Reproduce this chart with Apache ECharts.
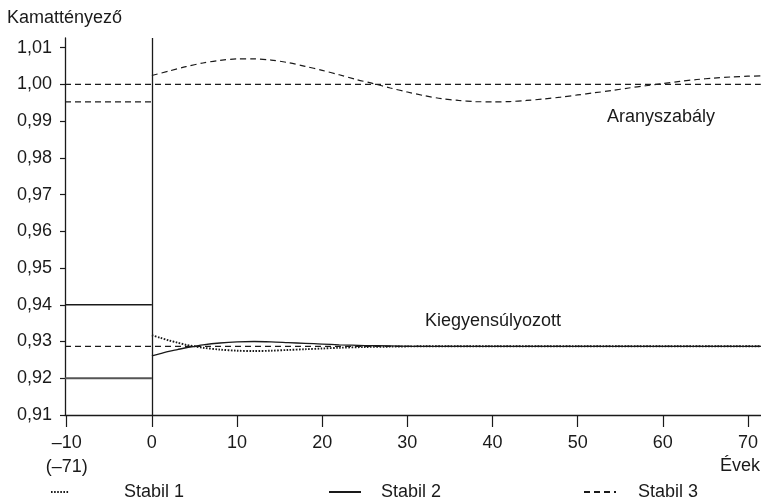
<!DOCTYPE html>
<html>
<head>
<meta charset="utf-8">
<script src="https://cdn.jsdelivr.net/npm/echarts@6/dist/echarts.min.js"></script>
<style>
html,body{margin:0;padding:0;background:#fff;}
#chart{width:761px;height:500px;}
</style>
</head>
<body>
<div id="chart"></div>
<script>
// ---- data ----
const xTicks = [-10, 0, 10, 20, 30, 40, 50, 60, 70];
const xTickLabels = ['–10\n(–71)', '0', '10', '20', '30', '40', '50', '60', '70'];
const yTicks = [0.91, 0.92, 0.93, 0.94, 0.95, 0.96, 0.97, 0.98, 0.99, 1.00, 1.01];

const preX = [-10.2, 0];
const fullX = [-10.2, 71.5];

const preArany = 0.9952;
const aranySteady = 1.00;
const kiegySteady = 0.9287;
const preHigh = 0.94;
const preLow = 0.92;

const aranyX = [0, 2, 4, 6, 8, 10, 12, 14, 16, 18, 20, 22, 24, 26, 28, 30, 32, 34, 36, 38, 40, 42, 44, 46, 48, 50, 52, 54, 56, 58, 60, 62, 64, 66, 68, 70, 71.5];
const aranyY = [1.0024, 1.0036, 1.0048, 1.0058, 1.0065, 1.0069, 1.0069, 1.0066, 1.0059, 1.0049, 1.0038, 1.0026, 1.0013, 1.0002, 0.9990, 0.9979, 0.9969, 0.9961, 0.9956, 0.9953, 0.9952, 0.9953, 0.9956, 0.9960, 0.9965, 0.9971, 0.9977, 0.9983, 0.9990, 0.9996, 1.0002, 1.0008, 1.0013, 1.0017, 1.0020, 1.0022, 1.0023];

const kiegyX = [0, 1, 2, 3, 4, 5, 6, 8, 10, 12, 14, 16, 18, 20, 22, 25, 28, 32, 40, 50, 60, 71.5];
const stabil1Y = [0.9317, 0.9310, 0.9303, 0.9297, 0.9291, 0.9287, 0.9283, 0.9278, 0.9275, 0.9274, 0.9275, 0.9277, 0.9279, 0.9281, 0.9283, 0.9285, 0.9286, 0.9287, 0.9287, 0.9287, 0.9287, 0.9287];
const stabil2Y = [0.9261, 0.9267, 0.9273, 0.9278, 0.9283, 0.9287, 0.9291, 0.9296, 0.9299, 0.9300, 0.9299, 0.9297, 0.9295, 0.9293, 0.9291, 0.9289, 0.9288, 0.9287, 0.9287, 0.9287, 0.9287, 0.9287];

// ---- build ----
const FONT = "'Liberation Sans', Arial, Helvetica, sans-serif";
const TXT = '#1a1a1a';
const zip = (xs, ys) => xs.map((x, i) => [x, ys[i]]);
const flat = (xs, v) => xs.map(x => [x, v]);

const dashed = { color: '#1a1a1a', width: 1.2, type: [6, 4] };
const solid = { color: '#1a1a1a', width: 1.3, type: 'solid' };
const dotted = { color: '#1a1a1a', width: 1.9, type: [1.6, 1.5] };

function line(name, data, style, smooth, extra) {
  return Object.assign({
    type: 'line', name: name, data: data, showSymbol: false, symbol: 'none',
    smooth: smooth || false, lineStyle: style, itemStyle: { color: style.color, opacity: 0 },
    silent: true, animation: false, z: 3
  }, extra || {});
}

const chart = echarts.init(document.getElementById('chart'), null, { renderer: 'canvas' });

function legend(name, left, itemWidth, gap) {
  return {
    data: [name], left: left, top: 478, itemWidth: itemWidth, itemHeight: 10,
    selectedMode: false,
    itemStyle: { opacity: 0 },
    textStyle: { fontFamily: FONT, fontSize: 18, color: TXT, padding: [0, 0, 0, gap] }
  };
}

chart.setOption({
  animation: false,
  backgroundColor: '#fff',
  grid: { left: 65, right: 0, top: 38, bottom: 85, containLabel: false },
  xAxis: {
    type: 'value', min: -10.2, max: 71.5,
    splitLine: { show: false },
    axisLine: { show: true, onZero: false, lineStyle: { color: '#1a1a1a', width: 1.3 } },
    axisTick: { show: true, length: 12, inside: false, customValues: xTicks, lineStyle: { color: '#1a1a1a', width: 1.2 } },
    axisLabel: {
      show: true, customValues: xTicks, margin: 16,
      fontFamily: FONT, fontSize: 18, color: TXT, lineHeight: 24,
      formatter: v => { const i = xTicks.indexOf(v); return i >= 0 ? xTickLabels[i] : ''; }
    }
  },
  yAxis: {
    type: 'value', min: 0.91, max: 1.0126,
    splitLine: { show: false },
    axisLine: { show: true, onZero: false, lineStyle: { color: '#1a1a1a', width: 1.3 } },
    axisTick: { show: true, length: 5, customValues: yTicks, lineStyle: { color: '#1a1a1a', width: 1.2 } },
    axisLabel: {
      show: true, customValues: yTicks, margin: 13,
      fontFamily: FONT, fontSize: 18, color: TXT,
      formatter: v => v.toFixed(2).replace('.', ',')
    }
  },
  legend: [
    legend('Stabil 1', 45, 18, 50),
    legend('Stabil 2', 323, 32, 15),
    legend('Stabil 3', 578, 32, 17)
  ],
  graphic: [
    { type: 'text', left: 7, top: 9, style: { text: 'Kamattényező', font: '18px ' + FONT, fill: TXT } },
    { type: 'text', right: 1, top: 457, style: { text: 'Évek', font: '18px ' + FONT, fill: TXT } },
    { type: 'text', left: 607, top: 108, style: { text: 'Aranyszabály', font: '18px ' + FONT, fill: TXT } },
    { type: 'text', left: 425, top: 312, style: { text: 'Kiegyensúlyozott', font: '18px ' + FONT, fill: TXT } }
  ],
  series: [
    line('Stabil 1', zip(kiegyX, stabil1Y), dotted, 0.3),
    line('Stabil 2', zip(kiegyX, stabil2Y), solid, 0.3, {
      markLine: {
        silent: true, symbol: 'none', animation: false,
        label: { show: false },
        lineStyle: { color: '#1a1a1a', width: 1.3, type: 'solid', opacity: 1 },
        data: [{ xAxis: 0 }]
      }
    }),
    line('Stabil 3', zip(aranyX, aranyY), dashed, 0.3),
    line('Stabil 3', flat(fullX, aranySteady), dashed),
    line('Stabil 3', flat(preX, preArany), dashed),
    line('Stabil 3', flat(fullX, kiegySteady), dashed),
    line('Kiinduló magas', flat(preX, preHigh), solid),
    line('Kiinduló alacsony', flat(preX, preLow), { color: '#555', width: 2, type: 'solid' })
  ]
});
</script>
</body>
</html>
